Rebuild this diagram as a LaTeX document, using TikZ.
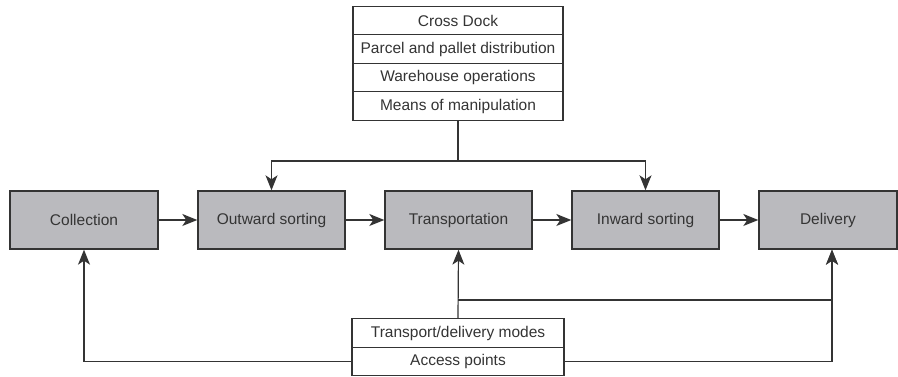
\documentclass[tikz,border=0pt]{standalone}
\usepackage{fontspec}
\setmainfont{Liberation Sans}
\usetikzlibrary{arrows.meta}
\definecolor{boxgray}{RGB}{186,186,190}
\definecolor{ink}{RGB}{52,52,52}
\begin{document}
\begin{tikzpicture}[x=1pt,y=1pt,
  label font/.style={font=\fontsize{15.5}{18}\selectfont, text=ink},
  stage/.style={draw=ink, line width=1.4pt, fill=boxgray, minimum height=58pt,
    inner sep=0pt, label font},
  cell/.style={draw=ink, line width=1.1pt, fill=white, inner sep=0pt, label font},
  link/.style={draw=ink, line width=1.2pt},
  arr/.style={link, -{Stealth[length=15pt,width=12pt,inset=4pt]}}]
\useasboundingbox (0,0) rectangle (898,377);

% process stages
\node[stage, minimum width=148pt] (collection) at (84,157)    {Collection};
\node[stage, minimum width=147pt] (outward)    at (271.5,157) {Outward sorting};
\node[stage, minimum width=147pt] (transport)  at (458.5,157) {Transportation};
\node[stage, minimum width=147pt] (inward)     at (645.5,157) {Inward sorting};
\node[stage, minimum width=138pt] (delivery)   at (828,157)   {Delivery};

% upper stack of facilities
\begin{scope}[every node/.style={cell, minimum width=210pt, minimum height=28.5pt}]
\node (crossdock) at (458,356.5) {Cross Dock};
\node (parcel)    at (458,328)   {Parcel and pallet distribution};
\node (warehouse) at (458,299.5) {Warehouse operations};
\node (means)     at (458,271)   {Means of manipulation};
\end{scope}

% lower stack of networks
\begin{scope}[every node/.style={cell, minimum width=212pt, minimum height=28.5pt}]
\node (modes)  at (458,44) {Transport/delivery modes};
\node (access) at (458,15.5) {Access points};
\end{scope}

% flow between stages
\draw[arr] (collection) -- (outward);
\draw[arr] (outward) -- (transport);
\draw[arr] (transport) -- (inward);
\draw[arr] (inward) -- (delivery);

% facilities feed both sorting stages
\coordinate (split) at (458,216);
\draw[link] (means.south) -- (split);
\draw[arr] (split) -| (outward.north);
\draw[arr] (split) -| (inward.north);

% transport modes feed transportation and delivery
\coordinate (tap) at (458,77);
\draw[arr] (modes.north) -- (transport.south);
\draw[arr] (tap) -| ([xshift=4pt]delivery.south);

% access points feed collection and delivery
\draw[arr] (access.west) -| (collection.south);
\draw[arr] (access.east) -| ([xshift=4pt]delivery.south);
\end{tikzpicture}
\end{document}
